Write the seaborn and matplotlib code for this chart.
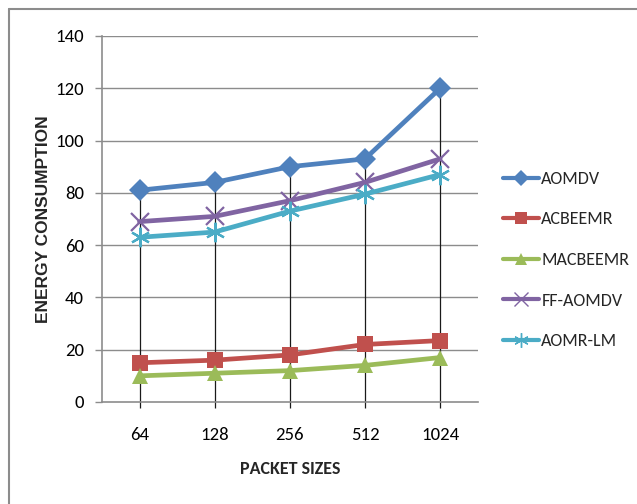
import matplotlib
matplotlib.use("Agg")
import matplotlib.pyplot as plt
import matplotlib.lines as mlines
import seaborn as sns
import pandas as pd
import numpy as np

# Energy consumption per routing protocol for each packet size
packet_sizes = ["64", "128", "256", "512", "1024"]
aomdv = [81, 84, 90, 93, 120]
acbeemr = [15, 16, 18, 22, 23.5]
macbeemr = [10, 11, 12, 14, 17]
ff_aomdv = [69, 71, 77, 84, 93]
aomr_lm = [63, 65, 73, 79.5, 87]

series_names = ["AOMDV", "ACBEEMR", "MACBEEMR", "FF-AOMDV", "AOMR-LM"]
series_values = [aomdv, acbeemr, macbeemr, ff_aomdv, aomr_lm]
colors = ["#4F81BD", "#C0504D", "#9BBB59", "#8064A2", "#4BACC6"]
markers = ["D", "s", "^", "x", (6, 2, 0)]
marker_sizes = [11, 11.5, 11.5, 12.5, 14]

sns.set_theme(style="white")
plt.rcParams["font.family"] = ["Carlito", "DejaVu Sans"]

rows = []
for name, vals in zip(series_names, series_values):
    for i, v in enumerate(vals):
        rows.append({"pos": i, "size": packet_sizes[i], "energy": v, "protocol": name})
df = pd.DataFrame(rows)

fig = plt.figure(figsize=(6.37, 5.04), dpi=100)
ax = fig.add_axes([0.160, 0.2024, 0.590, 0.7262])

# horizontal gridlines
for yv in range(20, 141, 20):
    ax.axhline(yv, color="#8c8c8c", lw=1.0, zorder=0)

# drop lines from the top series down to the axis
tops = np.max(np.array(series_values), axis=0)
ax.vlines(range(len(packet_sizes)), -2.2, tops, color="#1a1a1a", lw=0.9, zorder=1,
          clip_on=False)

handles = []
for name, col, mk, ms in zip(series_names, colors, markers, marker_sizes):
    sub = df[df["protocol"] == name]
    filled = mk not in ("x",) and not isinstance(mk, tuple)
    sns.lineplot(data=sub, x="pos", y="energy", ax=ax, color=col, lw=3.4,
                 marker=mk, markersize=ms, markeredgewidth=1.6 if not filled else 0,
                 markeredgecolor=col, markerfacecolor=col, zorder=3, legend=False)
    handles.append(mlines.Line2D([], [], color=col, lw=3.0, marker=mk,
                                 markersize=ms * 0.75, markeredgecolor=col,
                                 markerfacecolor=col,
                                 markeredgewidth=1.0 if not filled else 0))

ax.set_xlim(-0.5, len(packet_sizes) - 0.5)
ax.set_ylim(0, 140)
ax.set_yticks(range(0, 141, 20))
ax.set_xticks(range(len(packet_sizes)))
ax.set_xticklabels(packet_sizes)
ax.tick_params(axis="x", length=0, pad=18, labelsize=13.5, colors="#000000")
ax.tick_params(axis="y", length=5, width=1, pad=8, labelsize=13.5, left=True,
               colors="#8c8c8c", labelcolor="#000000")

for side in ["top", "right"]:
    ax.spines[side].set_visible(False)
for side in ["left", "bottom"]:
    ax.spines[side].set_color("#8c8c8c")
    ax.spines[side].set_linewidth(1.2)

ax.set_xlabel("PACKET SIZES", fontsize=13, fontweight="bold", labelpad=13)
ax.set_ylabel("ENERGY CONSUMPTION", fontsize=12.5, fontweight="bold", labelpad=3,
              family=["Liberation Sans", "DejaVu Sans"])

fig.legend(handles, series_names, loc="upper left", bbox_to_anchor=(0.784, 0.668),
           frameon=False, fontsize=13, labelspacing=1.36, handlelength=2.0,
           handletextpad=0.12, borderaxespad=0, borderpad=0.2)

# outer chart frame (top and left edges)
fig.add_artist(mlines.Line2D([0.014, 1.0], [0.982, 0.982], transform=fig.transFigure,
                             color="#8c8c8c", lw=1.5))
fig.add_artist(mlines.Line2D([0.014, 0.014], [0.0, 0.982], transform=fig.transFigure,
                             color="#8c8c8c", lw=1.5))

fig.savefig("out.png", dpi=100)
